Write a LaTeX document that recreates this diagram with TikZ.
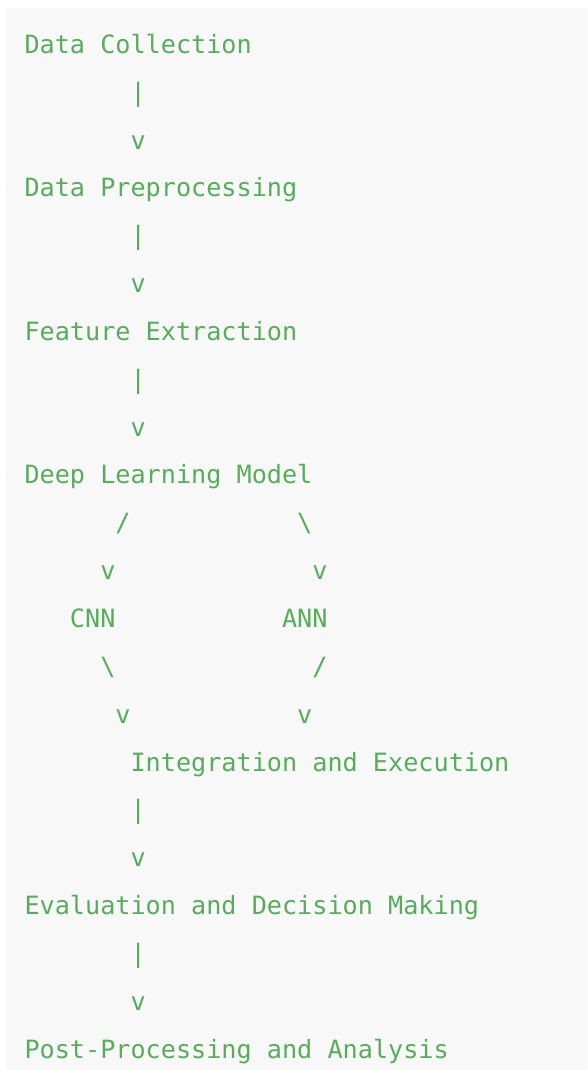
\documentclass[tikz,border=0pt]{standalone}
\usepackage{fontspec}
\newfontfamily\codefont{DejaVu Sans Mono}
\definecolor{codegreen}{RGB}{88,172,92}
\definecolor{codebg}{RGB}{248,248,248}
\newcommand\gl[4]{\node[txt] (#1) at ({24.5+#2*15.15},{53.3+#3*47.85}) {#4};}
\begin{document}
\begin{tikzpicture}[x=1pt,y=-1pt,
  txt/.style={anchor=base west,inner sep=0pt,outer sep=0pt,text=codegreen,
    font=\codefont\fontsize{25.17}{30}\selectfont}]
\useasboundingbox (0,0) rectangle (587,1070);
\fill[white] (0,0) rectangle (587,1070);
\fill[codebg] (6,8) rectangle (587,1070);
\gl{dc}{0}{0}{Data Collection}
\gl{b1}{7}{1}{|}
\gl{v1}{7}{2}{v}
\gl{dp}{0}{3}{Data Preprocessing}
\gl{b2}{7}{4}{|}
\gl{v2}{7}{5}{v}
\gl{fe}{0}{6}{Feature Extraction}
\gl{b3}{7}{7}{|}
\gl{v3}{7}{8}{v}
\gl{dl}{0}{9}{Deep Learning Model}
\gl{sl1}{6}{10}{/}
\gl{bs1}{18}{10}{\textbackslash}
\gl{vl1}{5}{11}{v}
\gl{vr1}{19}{11}{v}
\gl{cnn}{3}{12}{CNN}
\gl{ann}{17}{12}{ANN}
\gl{bs2}{5}{13}{\textbackslash}
\gl{sl2}{19}{13}{/}
\gl{vl2}{6}{14}{v}
\gl{vr2}{18}{14}{v}
\gl{ie}{7}{15}{Integration and Execution}
\gl{b4}{7}{16}{|}
\gl{v4}{7}{17}{v}
\gl{ed}{0}{18}{Evaluation and Decision Making}
\gl{b5}{7}{19}{|}
\gl{v5}{7}{20}{v}
\gl{pp}{0}{21}{Post-Processing and Analysis}
\end{tikzpicture}
\end{document}
